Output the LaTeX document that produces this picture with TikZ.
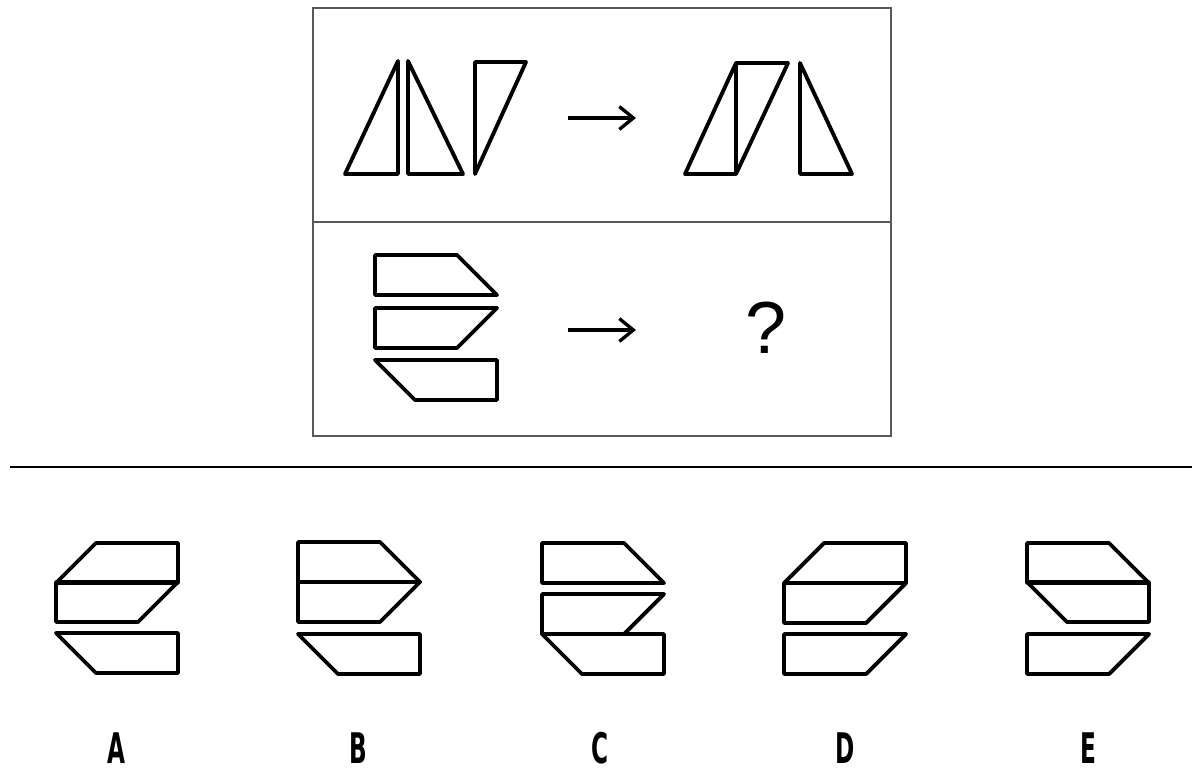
\documentclass[tikz,border=0pt]{standalone}
\usepackage{fontspec}
\setmainfont{Liberation Sans}
\newfontfamily\labelfont{DejaVu Sans}
\usetikzlibrary{arrows.meta}

\tikzset{
  piece/.style={draw, line width=2.2pt, line join=round},
  frame/.style={draw=black!65, line width=1.3pt},
  flow/.style={line width=1.9pt, -{Straight Barb[length=8pt,width=13pt,line width=1.9pt]}},
  cutTR/.pic={\draw[piece] (0,0) -- (82,0) -- (122,40) -- (0,40) -- cycle;},
  cutBR/.pic={\draw[piece] (0,0) -- (122,0) -- (82,40) -- (0,40) -- cycle;},
  cutBL/.pic={\draw[piece] (0,0) -- (122,0) -- (122,40) -- (40,40) -- cycle;},
  cutTL/.pic={\draw[piece] (40,0) -- (122,0) -- (122,40) -- (0,40) -- cycle;},
  optlabel/.style={font=\labelfont\bfseries\fontsize{24}{24}\selectfont, xscale=0.55}
}

\begin{document}
\begin{tikzpicture}[x=0.02cm,y=-0.02cm]
  \useasboundingbox (0,0) rectangle (1201,772);

  % question frame
  \draw[frame] (313,8) rectangle (891,436);
  \draw[frame] (313,222) -- (891,222);

  % first row: triangles
  \draw[piece] (345,174) -- (398,61) -- (398,174) -- cycle;
  \draw[piece] (408,61) -- (408,174) -- (463,174) -- cycle;
  \draw[piece] (475,62) -- (526,62) -- (475,174) -- cycle;
  \coordinate (a1s) at (568,118);
  \coordinate (a1e) at (636,118);
  \draw[flow] (a1s) -- (a1e);
  \draw[piece] (685,174) -- (736,63) -- (736,174) -- cycle;
  \draw[piece] (736,63) -- (788,63) -- (736,174) -- cycle;
  \draw[piece] (800,63) -- (800,174) -- (852,174) -- cycle;

  % second row: pieces
  \pic at (375,255) {cutTR};
  \pic at (375,308) {cutBR};
  \pic at (375,360) {cutBL};
  \coordinate (a2s) at (568,330);
  \coordinate (a2e) at (636,330);
  \draw[flow] (a2s) -- (a2e);
  \node[font=\fontsize{42}{42}\selectfont] (qm) at (766,328) {?};

  % separator
  \draw[line width=1.3pt] (10,467) -- (1192,467);

  % option A
  \pic at (56,543) {cutTL};
  \pic at (56,582) {cutBR};
  \pic at (56,633) {cutBL};
  % option B
  \pic at (298,542) {cutTR};
  \pic at (298,582) {cutBR};
  \pic at (298,634) {cutBL};
  % option C
  \pic at (542,543) {cutTR};
  \pic at (542,594) {cutBR};
  \pic at (542,634) {cutBL};
  % option D
  \pic at (784,543) {cutTL};
  \pic at (784,583) {cutBR};
  \pic at (784,634) {cutBR};
  % option E
  \pic at (1027,543) {cutTR};
  \pic at (1027,582) {cutBL};
  \pic at (1027,634) {cutBR};

  % labels
  \node[optlabel] (la) at (116,748) {A};
  \node[optlabel] (lb) at (358,748) {B};
  \node[optlabel] (lc) at (600,748) {C};
  \node[optlabel] (ld) at (845,748) {D};
  \node[optlabel] (le) at (1088,748) {E};
\end{tikzpicture}
\end{document}
